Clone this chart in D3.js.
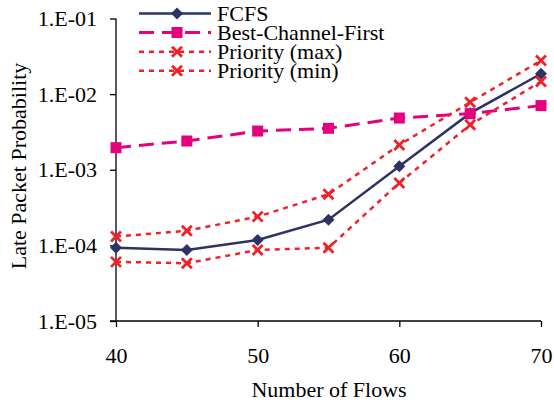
<!DOCTYPE html>
<html><head><meta charset="utf-8">
<script src="https://cdn.jsdelivr.net/npm/d3@7"></script>
<style>
body{margin:0;background:#fff;}
svg text{font-family:"Liberation Serif","DejaVu Serif",serif !important;fill:#000;}
</style></head>
<body><svg id="chart" width="554" height="402" font-family="Liberation Serif"></svg>
<script>
const flows = [40, 45, 50, 55, 60, 65, 70];
const fcfs = [9.3e-5, 8.7e-5, 1.18e-4, 2.19e-4, 1.11e-3, 5.6e-3, 1.86e-2];
const bestChannelFirst = [1.96e-3, 2.40e-3, 3.25e-3, 3.53e-3, 4.83e-3, 5.52e-3, 7.05e-3];
const priorityMax = [1.31e-4, 1.56e-4, 2.40e-4, 4.74e-4, 2.13e-3, 7.8e-3, 2.78e-2];
const priorityMin = [6.05e-5, 5.8e-5, 8.7e-5, 9.3e-5, 6.7e-4, 3.93e-3, 1.47e-2];
const xTicks = [40, 50, 60, 70];
const yTicks = [1e-5, 1e-4, 1e-3, 1e-2, 1e-1];
const yTickLabels = ["1.E-05", "1.E-04", "1.E-03", "1.E-02", "1.E-01"];
const seriesNames = ["FCFS", "Best-Channel-First", "Priority (max)", "Priority (min)"];

const FONT = "Liberation Serif, DejaVu Serif, serif";
const svg = d3.select("#chart");
const x = d3.scaleLinear().domain([40, 70]).range([116, 541]);
const y = d3.scaleLog().domain([1e-5, 1e-1]).range([321, 18.5]);

const styles = [
  {color:"#2F3264", width:2.5, dash:null, marker:"diamond"},
  {color:"#E6007E", width:3, dash:"15,8", marker:"square"},
  {color:"#EE2228", width:2.5, dash:"5,5", marker:"x"},
  {color:"#EE2228", width:2.5, dash:"5,5", marker:"x"}
];
const data = [fcfs, bestChannelFirst, priorityMax, priorityMin];

// axes
const yAxis = d3.axisLeft(y).tickValues(yTicks).tickSize(6).tickPadding(13)
  .tickFormat(d => yTickLabels[yTicks.indexOf(d)]);
const gy = svg.append("g").attr("transform","translate(116,0)").call(yAxis);
const xAxis = d3.axisBottom(x).tickValues(xTicks).tickSize(6).tickPadding(20).tickFormat(d3.format("d"));
const gx = svg.append("g").attr("transform","translate(0,321)").call(xAxis);
[gy, gx].forEach(g => {
  g.attr("font-family", FONT).attr("font-size", 22);
  g.select(".domain").attr("stroke","#000").attr("stroke-width",1.3);
  g.selectAll(".tick line").attr("stroke","#000").attr("stroke-width",1.3);
  g.selectAll(".tick text").attr("font-family", FONT).attr("font-size", 22).attr("fill","#000");
});
gy.select(".domain").attr("d","M-0,18.5V321");
gx.select(".domain").attr("d","M110,0H541");

// axis titles
svg.append("text").attr("transform","translate(26,166) rotate(-90)")
  .attr("text-anchor","middle").attr("font-family",FONT).attr("font-size",22).text("Late Packet Probability");
svg.append("text").attr("x",329).attr("y",397)
  .attr("text-anchor","middle").attr("font-family",FONT).attr("font-size",22).text("Number of Flows");

function drawMarker(g, type, cx, cy, color){
  if(type==="diamond"){
    g.append("path").attr("d",`M${cx},${cy-6}L${cx+6},${cy}L${cx},${cy+6}L${cx-6},${cy}Z`).attr("fill",color);
  } else if(type==="square"){
    g.append("rect").attr("x",cx-5.5).attr("y",cy-5.5).attr("width",11).attr("height",11).attr("fill",color);
  } else {
    g.append("path").attr("d",`M${cx-5},${cy-5}L${cx+5},${cy+5}M${cx-5},${cy+5}L${cx+5},${cy-5}`)
      .attr("stroke",color).attr("stroke-width",2.8).attr("fill","none");
  }
}

const line = d3.line().x(d=>x(d[0])).y(d=>y(d[1]));
data.forEach((vals,i) => {
  const st = styles[i];
  const g = svg.append("g");
  const pts = flows.map((f,j)=>[f, vals[j]]);
  g.append("path").attr("d", line(pts)).attr("fill","none").attr("stroke",st.color)
    .attr("stroke-width",st.width).attr("stroke-dasharray",st.dash);
  pts.forEach(p => drawMarker(g, st.marker, x(p[0]), y(p[1]), st.color));
});

// legend
const legendY = [13.5, 32.5, 51.7, 70.7];
seriesNames.forEach((name,i) => {
  const st = styles[i];
  const g = svg.append("g");
  g.append("line").attr("x1",139).attr("x2",211).attr("y1",legendY[i]).attr("y2",legendY[i])
    .attr("stroke",st.color).attr("stroke-width",st.width).attr("stroke-dasharray",st.dash);
  drawMarker(g, st.marker, 177, legendY[i], st.color);
  g.append("text").attr("x",217).attr("y",legendY[i]+7.5).attr("font-family",FONT).attr("font-size",22).text(name);
});
</script></body></html>
